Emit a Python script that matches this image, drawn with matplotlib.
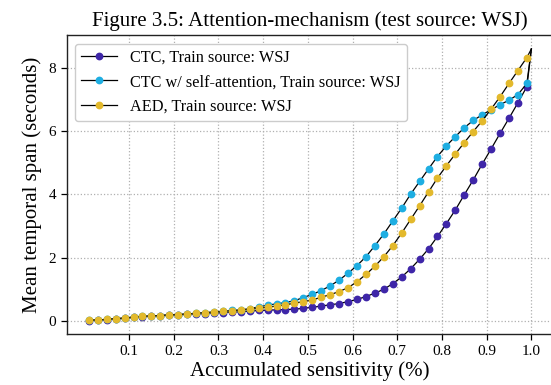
import matplotlib
matplotlib.use("Agg")
import matplotlib.pyplot as plt
import numpy as np

plt.rcParams['font.family'] = ['Liberation Serif', 'DejaVu Serif']

# Accumulated sensitivity: markers at 0.01, 0.03, ..., 0.99 and a final point at 1.0
sensitivity = [round(0.01 + 0.02 * i, 2) for i in range(50)] + [1.0]

ctc = [0.01, 0.02, 0.04, 0.06, 0.08, 0.11, 0.13, 0.15, 0.16, 0.18,
       0.19, 0.21, 0.22, 0.23, 0.25, 0.26, 0.28, 0.29, 0.31, 0.33,
       0.34, 0.35, 0.36, 0.37, 0.40, 0.43, 0.47, 0.51, 0.55, 0.61,
       0.68, 0.77, 0.88, 1.00, 1.18, 1.39, 1.65, 1.95, 2.28, 2.67,
       3.08, 3.51, 3.99, 4.46, 4.96, 5.44, 5.93, 6.41, 6.90, 7.41,
       8.60]

ctc_attn = [0.02, 0.03, 0.05, 0.07, 0.09, 0.12, 0.14, 0.16, 0.17, 0.19,
            0.20, 0.22, 0.24, 0.26, 0.28, 0.30, 0.33, 0.35, 0.39, 0.44,
            0.50, 0.54, 0.58, 0.64, 0.74, 0.84, 0.96, 1.11, 1.29, 1.51,
            1.75, 2.03, 2.38, 2.75, 3.16, 3.57, 4.01, 4.41, 4.81, 5.20,
            5.54, 5.83, 6.11, 6.34, 6.52, 6.68, 6.84, 6.98, 7.16, 7.51,
            8.60]

aed = [0.02, 0.03, 0.05, 0.07, 0.09, 0.12, 0.14, 0.16, 0.17, 0.19,
       0.20, 0.22, 0.24, 0.26, 0.28, 0.30, 0.32, 0.34, 0.37, 0.40,
       0.43, 0.47, 0.51, 0.56, 0.61, 0.66, 0.75, 0.83, 0.93, 1.05,
       1.24, 1.47, 1.73, 2.03, 2.38, 2.78, 3.21, 3.64, 4.08, 4.52,
       4.91, 5.28, 5.64, 5.99, 6.33, 6.70, 7.09, 7.51, 7.92, 8.33,
       8.60]

series_labels = ['CTC, Train source: WSJ',
                 'CTC w/ self-attention, Train source: WSJ',
                 'AED, Train source: WSJ']
series_colors = ['#3e26a8', '#1eaee2', '#e3b92c']

x_ticks = [0.1, 0.2, 0.3, 0.4, 0.5, 0.6, 0.7, 0.8, 0.9, 1.0]
y_ticks = [0, 2, 4, 6, 8]

fig = plt.figure(figsize=(5.51, 3.85), dpi=100)
# right spine falls just past the figure edge, as in the original crop
ax = fig.add_axes([0.121, 0.132, 0.8835, 0.776])

for values, label, color in zip([ctc, ctc_attn, aed], series_labels, series_colors):
    ax.plot(sensitivity, values, color='black', linewidth=0.9,
            marker='o', markersize=4.6, markerfacecolor=color,
            markeredgecolor=color, markevery=slice(0, -1), label=label)

# default 5% margins give the original limits
ax.set_xticks(x_ticks)
ax.set_xticklabels(['%.1f' % t for t in x_ticks])
ax.set_yticks(y_ticks)
ax.tick_params(direction='out', length=4, width=0.9, labelsize=11)

ax.grid(True, linestyle=':', color='#b0b0b0', linewidth=0.9)
for spine in ax.spines.values():
    spine.set_linewidth(1.0)
    spine.set_color('#222222')

ax.set_xlabel('Accumulated sensitivity (%)', fontsize=15, labelpad=3)
ax.set_ylabel('Mean temporal span (seconds)', fontsize=15, labelpad=5)
ax.set_title('Figure 3.5: Attention-mechanism (test source: WSJ)', fontsize=15, pad=7)

ax.legend(loc='upper left', fontsize=11.7, frameon=True, fancybox=True,
          edgecolor='#cccccc', framealpha=1.0, handlelength=2.2,
          borderaxespad=0.5)

fig.savefig('out.png', dpi=100)
